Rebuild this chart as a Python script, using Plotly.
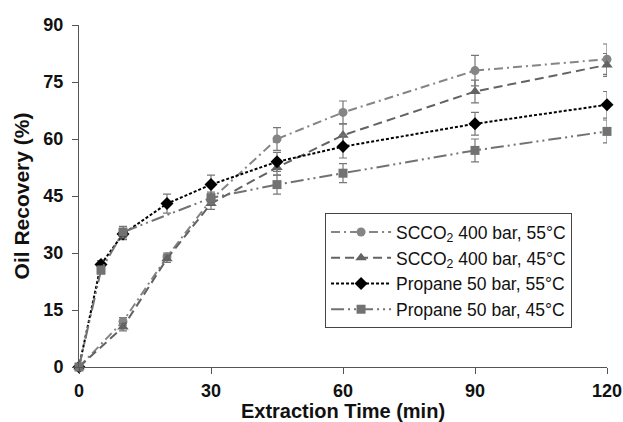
import plotly.graph_objects as go

# Data
scco2_55_t = [0, 10, 20, 30, 45, 60, 90, 120]
scco2_55_y = [0, 12, 29, 44, 60, 67, 78, 81]
scco2_55_e = [0, 1, 1, 1.5, 3, 3, 4, 4]

scco2_45_t = [0, 10, 20, 30, 45, 60, 90, 120]
scco2_45_y = [0, 10.5, 28.5, 43, 52.5, 61, 72.5, 79.5]
scco2_45_e = [0, 1, 1, 1.5, 2, 3, 3, 3]

prop_55_t = [0, 5, 10, 20, 30, 45, 60, 90, 120]
prop_55_y = [0, 27, 35, 43, 48, 54, 58, 64, 69]
prop_55_e = [0, 1, 1.5, 2.5, 2.5, 2.5, 3, 3, 3.5]

prop_45_t = [0, 5, 10, 30, 45, 60, 90, 120]
prop_45_y = [0, 25.5, 35.5, 44.5, 48, 51, 57, 62]
prop_45_e = [0, 1, 1.5, 1.5, 2.5, 2.5, 3, 3]

names = ["SCCO<sub>2</sub> 400 bar, 55°C", "SCCO<sub>2</sub> 400 bar, 45°C",
         "Propane 50 bar, 55°C", "Propane 50 bar, 45°C"]
x_ticks = [0, 30, 60, 90, 120]
y_ticks = [0, 15, 30, 45, 60, 75, 90]

series = [
    (scco2_55_t, scco2_55_y, scco2_55_e, "#858585", "9px,4px,2px,4px", "circle", 9),
    (scco2_45_t, scco2_45_y, scco2_45_e, "#636363", "9px,5px", "triangle-up", 10),
    (prop_55_t, prop_55_y, prop_55_e, "#000000", "3px,2px", "diamond", 10),
    (prop_45_t, prop_45_y, prop_45_e, "#727272", "13px,4px,2px,4px,2px,4px", "square", 9),
]

fig = go.Figure()
for (t, y, e, c, dash, sym, sz), nm in zip(series, names):
    fig.add_trace(go.Scatter(
        x=t, y=y, name=nm, mode="lines+markers",
        line=dict(color=c, width=2, dash=dash),
        marker=dict(color=c, symbol=sym, size=sz),
        error_y=dict(type="data", array=e, visible=True, color="#777777",
                     thickness=1.2, width=4),
        cliponaxis=False,
    ))

FONT = "Liberation Sans, Arial"
xtitle_font = dict(family=FONT, size=20, color="#111111")
ytitle_font = dict(family=FONT, size=21, color="#111111")
tick_font = dict(size=18, family=FONT, weight="bold", color="#111111")
fig.update_layout(
    width=623, height=422,
    margin=dict(l=79, r=16, t=25, b=55, autoexpand=False),
    plot_bgcolor="white", paper_bgcolor="white",
    font=dict(family=FONT, color="#111111"),
    showlegend=True,
    legend=dict(x=0.466, y=0.45, xanchor="left", yanchor="top",
                bgcolor="white", bordercolor="#444444", borderwidth=1,
                font=dict(size=17.5, family=FONT, color="#111111"),
                tracegroupgap=0, itemwidth=60),
    xaxis=dict(range=[0, 120], tickvals=x_ticks, showgrid=False, zeroline=False,
               showline=True, linecolor="#555555", linewidth=1, automargin=False,
               ticks="outside", ticklen=6, tickcolor="#555555",
               tickfont=tick_font, ticklabelstandoff=1,
               title=dict(text="<b>Extraction Time (min)</b>", font=xtitle_font, standoff=7)),
    yaxis=dict(range=[0, 90], tickvals=y_ticks, showgrid=False, zeroline=False,
               showline=True, linecolor="#555555", linewidth=1, automargin=False,
               ticks="outside", ticklen=6, tickcolor="#555555",
               tickfont=tick_font, ticklabelstandoff=5,
               title=dict(text="<b>Oil Recovery (%)</b>", font=ytitle_font, standoff=8)),
)

fig.write_html(
    "out.html",
    config={"displayModeBar": False},
    post_script="document.body.style.margin='0';document.body.style.overflow='hidden';",
)
